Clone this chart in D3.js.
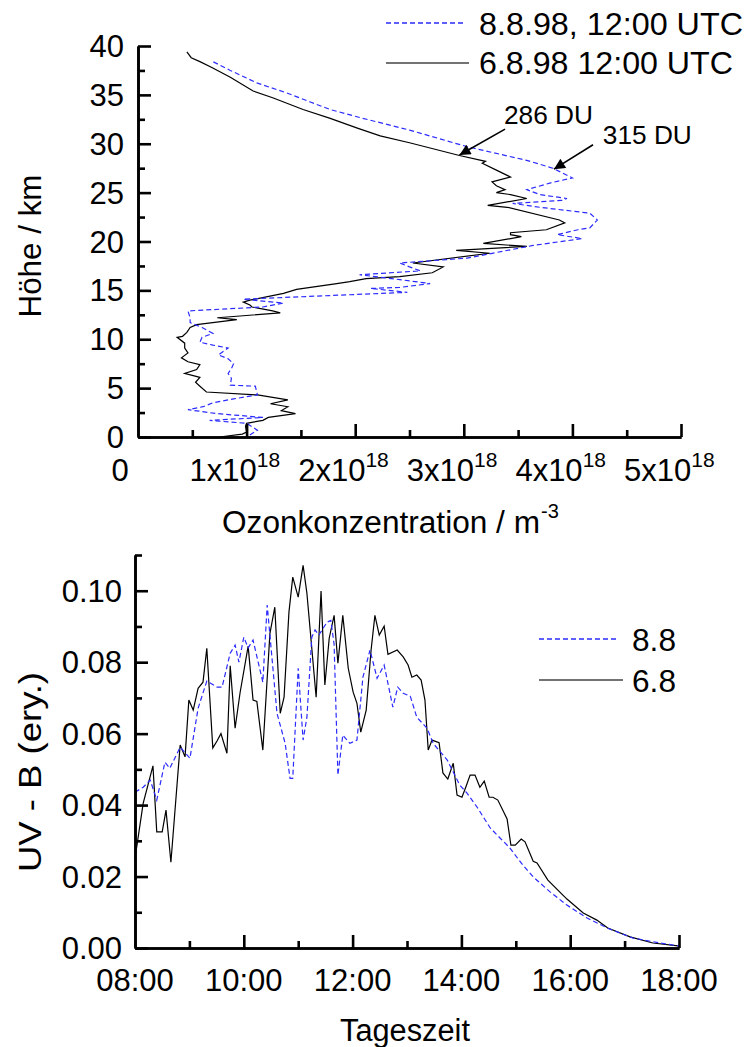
<!DOCTYPE html>
<html>
<head>
<meta charset="utf-8">
<script src="https://cdn.jsdelivr.net/npm/d3@7/dist/d3.min.js"></script>
<style>
html,body{margin:0;padding:0;background:#fff;}
svg text{font-family:"Liberation Sans",Arial,sans-serif;fill:#000;}
</style>
</head>
<body>
<svg id="chart" width="747" height="1047"></svg>
<script>
// ---------- Data: ozone profiles (altitude km, concentration in 1e18 m^-3) ----------
const alt6 = [0,0.3,0.5,1.1,1.4,1.7,2.0,2.4,2.7,3.1,3.4,3.8,4.3,4.6,5.3,5.6,6.1,6.3,6.5,6.9,7.4,7.7,8.1,8.6,9.1,9.6,10.2,10.3,10.7,11.2,11.5,12.0,12.2,12.3,12.7,12.9,13.3,13.5,13.8,14.0,14.7,15.1,15.7,15.9,16.2,16.4,16.8,17.4,17.8,18.8,19.1,19.5,19.8,20.5,20.7,20.9,21.2,21.9,22.2,23.5,23.7,24.4,24.8,25.0,25.3,25.7,26.1,26.6,27.3,28.0,28.2,28.8,30.1,30.8,31.6,32.6,33.5,34.7,35.4,36.8,37.8,38.4,38.8,39.4];
const ozone6 = [0.75,0.96,1.0,0.99,1.0,1.15,1.2,1.45,1.32,1.38,1.22,1.38,1.1,0.63,0.56,0.53,0.57,0.5,0.43,0.54,0.57,0.46,0.4,0.46,0.43,0.43,0.36,0.41,0.45,0.48,0.54,0.91,0.73,0.85,1.31,1.24,1.05,1.03,0.97,1.03,1.34,1.46,1.83,1.95,2.1,2.41,2.71,2.81,2.53,3.24,2.93,3.58,3.18,3.53,3.43,3.43,3.76,3.93,3.88,3.4,3.22,3.58,3.43,3.3,3.38,3.3,3.26,3.43,3.3,3.17,3.2,2.96,2.5,2.23,2.02,1.77,1.52,1.24,1.06,0.85,0.68,0.57,0.49,0.45];
const alt8 = [0.2,0.7,1.4,1.7,2.0,2.4,2.8,3.1,3.5,3.9,4.3,5.2,5.3,6.0,6.5,7.0,7.5,8.0,8.4,9.1,9.4,9.7,10.2,10.6,11.2,11.7,12.2,12.9,13.3,13.7,14.1,14.3,14.8,15.2,15.3,15.7,16.1,16.6,17.0,17.4,17.8,18.3,19.6,20.3,20.7,21.2,21.4,22.2,22.9,23.5,23.9,24.2,24.4,24.8,25.3,26.0,26.5,27.5,28.3,29.7,31.4,32.6,33.5,34.3,35.2,36.2,37.5,38.4];
const ozone8 = [1.03,1.1,1.0,0.66,1.15,0.72,0.46,0.6,0.69,0.88,1.1,1.08,0.85,0.86,0.83,0.86,0.88,0.83,0.74,0.83,0.69,0.57,0.59,0.69,0.59,0.48,0.48,0.46,1.15,1.34,0.97,1.4,2.48,2.14,2.41,2.69,2.41,2.04,2.6,2.5,2.41,3.03,3.64,4.09,3.86,4.05,4.16,4.23,4.16,3.7,3.45,3.9,3.95,3.7,3.58,3.8,4.0,3.82,3.58,3.03,2.5,2.07,1.77,1.58,1.37,1.1,0.85,0.69];

// ---------- Data: UV-B (erythemal) vs time of day (decimal hours) ----------
const time6 = [8.00,8.15,8.33,8.40,8.50,8.57,8.66,8.83,8.92,8.99,9.07,9.16,9.25,9.32,9.43,9.51,9.58,9.69,9.75,9.84,9.93,10.08,10.17,10.24,10.35,10.48,10.57,10.67,10.74,10.83,10.90,11.00,11.09,11.16,11.33,11.42,11.49,11.57,11.66,11.73,11.82,11.92,12.01,12.08,12.15,12.25,12.34,12.41,12.49,12.58,12.65,12.82,12.93,13.02,13.09,13.18,13.26,13.33,13.39,13.46,13.59,13.66,13.75,13.85,13.92,14.01,14.08,14.16,14.25,14.34,14.42,14.51,14.58,14.67,14.84,14.91,14.99,15.10,15.17,15.32,15.39,15.59,15.94,16.24,16.49,16.69,17.10,17.52,17.98,18.0];
const uv6 = [0.025,0.0405,0.051,0.0325,0.0325,0.0386,0.024,0.0568,0.0535,0.0694,0.0666,0.0727,0.0744,0.0839,0.056,0.058,0.06,0.0545,0.079,0.0615,0.0713,0.0845,0.0694,0.069,0.0554,0.088,0.0954,0.0657,0.0702,0.094,0.1038,0.0982,0.1071,0.0993,0.0702,0.0999,0.0736,0.0867,0.0931,0.0797,0.0931,0.0783,0.0716,0.0685,0.0604,0.0666,0.0834,0.0931,0.0876,0.0901,0.0822,0.0834,0.0815,0.0792,0.0758,0.0764,0.075,0.0694,0.0554,0.0582,0.0575,0.049,0.0473,0.0517,0.0428,0.0422,0.045,0.0484,0.0484,0.045,0.0467,0.0422,0.0422,0.0414,0.0361,0.0288,0.0288,0.0305,0.0297,0.0243,0.0238,0.019,0.0137,0.0098,0.0078,0.0056,0.0031,0.0014,0.0006,0.0004];
const time8 = [8.00,8.15,8.28,8.40,8.55,8.64,8.83,9.01,9.16,9.32,9.51,9.60,9.75,9.84,9.91,10.00,10.08,10.17,10.35,10.43,10.61,10.76,10.85,10.90,11.00,11.09,11.16,11.25,11.31,11.38,11.53,11.60,11.66,11.73,11.82,11.95,12.08,12.19,12.32,12.45,12.58,12.74,12.83,12.93,13.06,13.18,13.37,13.48,13.74,13.97,14.10,14.29,14.53,14.71,14.89,15.13,15.32,15.63,15.94,16.31,16.68,17.15,17.65,17.98,18.0];
const uv8 = [0.0436,0.045,0.047,0.0414,0.052,0.0503,0.0562,0.0531,0.0671,0.0747,0.073,0.073,0.0825,0.0848,0.08,0.087,0.084,0.0862,0.0744,0.096,0.0657,0.0573,0.0475,0.0475,0.0783,0.0582,0.0646,0.087,0.089,0.0876,0.0912,0.0917,0.085,0.0484,0.0596,0.0573,0.0582,0.0758,0.0834,0.0755,0.0792,0.0674,0.073,0.0713,0.0705,0.0646,0.0615,0.0573,0.0526,0.0456,0.0434,0.0394,0.0336,0.0308,0.028,0.0232,0.0199,0.0157,0.012,0.0084,0.0056,0.0028,0.0014,0.0006,0.0004];

// ---------- Ticks / labels ----------
const ozoneMajorTicks = [0,1,2,3,4,5];
const ozoneMinorTicks = [0.5,1.5,2.5,3.5,4.5];
const ozoneTickLabels = ["0","1x10","2x10","3x10","4x10","5x10"];
const ozoneTickExp = ["","18","18","18","18","18"];
const altMajorTicks = [0,5,10,15,20,25,30,35,40];
const altMinorTicks = [2.5,7.5,12.5,17.5,22.5,27.5,32.5,37.5];
const timeMajorTicks = [8,10,12,14,16,18];
const timeMinorTicks = [9,11,13,15,17];
const timeTickLabels = ["08:00","10:00","12:00","14:00","16:00","18:00"];
const uvMajorTicks = [0,0.02,0.04,0.06,0.08,0.10];
const uvMinorTicks = [0.01,0.03,0.05,0.07,0.09,0.11];

const legendTop = ["8.8.98, 12:00 UTC","6.8.98 12:00 UTC"];
const legendBottom = ["8.8","6.8"];
const annotations = [
  {text:"286 DU", tx:3.37, ty:32.0, x0:3.38, y0:31.5, x1:2.96, y1:28.85},
  {text:"315 DU", tx:4.28, ty:30.0, x0:4.19, y0:29.9, x1:3.83, y1:27.4}
];

const BLUE = "#2b2bff";
const svg = d3.select("#chart");
const FS = 31;      // tick labels
const FS_T = 31;    // axis titles
const FS_L = 31;    // legend
const FS_A = 25;    // annotations

// helper: text stretched to the width measured on the reference
function fitText(g, x, y, str, size, len, anchor){
  return g.append("text").attr("x",x).attr("y",y).attr("font-size",size)
    .attr("text-anchor",anchor||"start")
    .attr("textLength",len).attr("lengthAdjust","spacingAndGlyphs").text(str);
}

// ---------- Scales ----------
const xO = d3.scaleLinear().domain([0,5]).range([138,681]);
const yO = d3.scaleLinear().domain([0,40]).range([437,46]);
const xT = d3.scaleLinear().domain([8,18]).range([135,679]);
const yU = d3.scaleLinear().domain([0,0.11]).range([948,555]);

svg.append("defs").append("marker")
  .attr("id","arrow").attr("viewBox","0 0 10 10").attr("refX",10).attr("refY",5)
  .attr("markerWidth",14).attr("markerHeight",11).attr("markerUnits","userSpaceOnUse")
  .attr("orient","auto")
  .append("path").attr("d","M0,0 L10,5 L0,10 z").attr("fill","#000");

function styleAxis(g){
  g.selectAll("path.domain").attr("stroke","#000").attr("stroke-width",2.6);
  g.selectAll(".tick line").attr("stroke","#000").attr("stroke-width",2.6);
  g.selectAll(".tick text").remove();
}

// ---------- Top chart ----------
const gTop = svg.append("g");
const prof = (xs, ys) => d3.line().x((d,i)=>xO(xs[i])).y((d,i)=>yO(ys[i]));
gTop.append("path").attr("d", prof(ozone6, alt6)(alt6))
  .attr("fill","none").attr("stroke","#000").attr("stroke-width",1.2);
gTop.append("path").attr("d", prof(ozone8, alt8)(alt8))
  .attr("fill","none").attr("stroke",BLUE).attr("stroke-width",1.2).attr("stroke-dasharray","5,3");

gTop.append("g").attr("transform",`translate(0,${yO(0)})`)
  .call(d3.axisBottom(xO).tickValues(ozoneMinorTicks).tickSizeInner(-7).tickSizeOuter(0).tickFormat("")).call(styleAxis);
gTop.append("g").attr("transform",`translate(0,${yO(0)})`)
  .call(d3.axisBottom(xO).tickValues(ozoneMajorTicks.slice(1)).tickSizeInner(-13).tickSizeOuter(0).tickFormat("")).call(styleAxis);
gTop.append("g").attr("transform",`translate(${xO(0)},0)`)
  .call(d3.axisLeft(yO).tickValues(altMinorTicks).tickSizeInner(-7).tickSizeOuter(0).tickFormat("")).call(styleAxis);
gTop.append("g").attr("transform",`translate(${xO(0)},0)`)
  .call(d3.axisLeft(yO).tickValues(altMajorTicks).tickSizeInner(-13).tickSizeOuter(0).tickFormat("")).call(styleAxis);

// y tick labels
gTop.selectAll("text.ylab").data(altMajorTicks).join("text").attr("class","ylab")
  .attr("x",124).attr("y",d=>yO(d)+11).attr("text-anchor","end").attr("font-size",FS).text(d=>d);
// x tick labels
ozoneMajorTicks.forEach((d,i)=>{
  if(i===0){
    gTop.append("text").attr("x",xO(d)-18).attr("y",481).attr("text-anchor","middle").attr("font-size",FS).text(ozoneTickLabels[i]);
  } else {
    const t = gTop.append("text").attr("x",xO(d)-57).attr("y",481).attr("font-size",FS);
    t.append("tspan").text(ozoneTickLabels[i]);
    t.append("tspan").attr("font-size",21).attr("dy",-14).text(ozoneTickExp[i]);
  }
});
// axis titles
fitText(gTop, 222, 533, "Ozonkonzentration / m", FS_T, 318);
gTop.append("text").attr("x",541).attr("y",518).attr("font-size",20).text("-3");
const hy = gTop.append("g").attr("transform","translate(41,246) rotate(-90)");
fitText(hy, 0, 0, "Höhe / km", FS_T, 143, "middle");

// annotations
annotations.forEach(a=>{
  gTop.append("line").attr("x1",xO(a.x0)).attr("y1",yO(a.y0)).attr("x2",xO(a.x1)).attr("y2",yO(a.y1))
    .attr("stroke","#000").attr("stroke-width",1.6).attr("marker-end","url(#arrow)");
  fitText(gTop, xO(a.tx), yO(a.ty), a.text, FS_A, 89);
});

// top legend
gTop.append("line").attr("x1",386).attr("x2",465).attr("y1",23).attr("y2",23)
  .attr("stroke",BLUE).attr("stroke-width",1.3).attr("stroke-dasharray","5,3");
fitText(gTop, 479, 35, legendTop[0], FS_L, 264);
gTop.append("line").attr("x1",386).attr("x2",469).attr("y1",63).attr("y2",63)
  .attr("stroke","#444").attr("stroke-width",1.5);
fitText(gTop, 479, 74, legendTop[1], FS_L, 254);

// ---------- Bottom chart ----------
const gBot = svg.append("g");
const uvLine = (xs, ys) => d3.line().x((d,i)=>xT(xs[i])).y((d,i)=>yU(ys[i]));
gBot.append("path").attr("d", uvLine(time6, uv6)(time6))
  .attr("fill","none").attr("stroke","#000").attr("stroke-width",1.2);
gBot.append("path").attr("d", uvLine(time8, uv8)(time8))
  .attr("fill","none").attr("stroke",BLUE).attr("stroke-width",1.2).attr("stroke-dasharray","5,3");

gBot.append("g").attr("transform",`translate(0,${yU(0)})`)
  .call(d3.axisBottom(xT).tickValues(timeMinorTicks).tickSizeInner(-7).tickSizeOuter(0).tickFormat("")).call(styleAxis);
gBot.append("g").attr("transform",`translate(0,${yU(0)})`)
  .call(d3.axisBottom(xT).tickValues(timeMajorTicks.slice(1)).tickSizeInner(-13).tickSizeOuter(0).tickFormat("")).call(styleAxis);
gBot.append("g").attr("transform",`translate(${xT(8)},0)`)
  .call(d3.axisLeft(yU).tickValues(uvMinorTicks).tickSizeInner(-7).tickSizeOuter(0).tickFormat("")).call(styleAxis);
gBot.append("g").attr("transform",`translate(${xT(8)},0)`)
  .call(d3.axisLeft(yU).tickValues(uvMajorTicks).tickSizeInner(-13).tickSizeOuter(0).tickFormat("")).call(styleAxis);

gBot.selectAll("text.ylab").data(uvMajorTicks).join("text").attr("class","ylab")
  .attr("x",122).attr("y",d=>yU(d)+11).attr("text-anchor","end").attr("font-size",FS).text(d=>d3.format(".2f")(d));
gBot.selectAll("text.xlab").data(timeMajorTicks).join("text").attr("class","xlab")
  .attr("x",d=>xT(d)).attr("y",991).attr("text-anchor","middle").attr("font-size",FS).text((d,i)=>timeTickLabels[i]);
fitText(gBot, 405, 1041, "Tageszeit", FS_T, 130, "middle");
const uy = gBot.append("g").attr("transform","translate(41,772) rotate(-90)");
fitText(uy, 0, 0, "UV - B (ery.)", FS_T, 200, "middle");

// bottom legend
gBot.append("line").attr("x1",539).attr("x2",618).attr("y1",639).attr("y2",639)
  .attr("stroke",BLUE).attr("stroke-width",1.3).attr("stroke-dasharray","5,3");
fitText(gBot, 632, 651, legendBottom[0], FS_L, 44);
gBot.append("line").attr("x1",539).attr("x2",623).attr("y1",680).attr("y2",680)
  .attr("stroke","#444").attr("stroke-width",1.5);
fitText(gBot, 632, 692, legendBottom[1], FS_L, 44);
</script>
</body>
</html>
